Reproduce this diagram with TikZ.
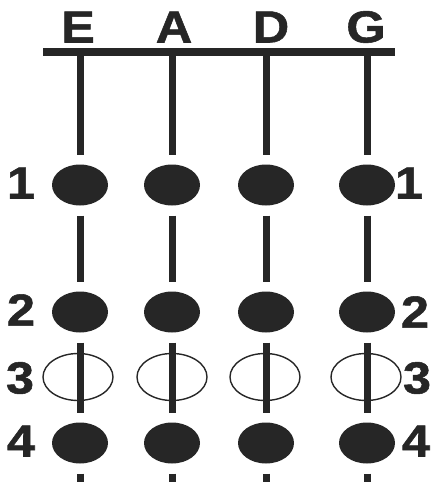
\documentclass[tikz,border=0pt]{standalone}
\usepackage{fontspec}
\newfontfamily\chartfont[FakeStretch=1.12,FakeBold=1.2]{Liberation Sans}
\usetikzlibrary{shapes.geometric}
\tikzset{fretdot/.style={ellipse,fill=black!85,minimum width=56pt,minimum height=41pt,inner sep=0pt,outer sep=10pt}}
\tikzset{openfret/.style={ellipse,draw=black!85,line width=1.4pt,minimum width=70pt,minimum height=47pt,inner sep=0pt}}
\tikzset{stringline/.style={line width=7pt,black!85}}
\tikzset{lbl/.style={font=\chartfont\bfseries\fontsize{45}{45}\selectfont,text=black!85,inner sep=0pt}}

\begin{document}
\begin{tikzpicture}[x=1pt,y=-1pt]
            \useasboundingbox (0,0) rectangle (437,490);

            % nut
            \coordinate (nutL) at (43,52);
            \coordinate (nutR) at (395,52);
            \draw[line width=8pt,black!85] (nutL) -- (nutR);

            % string names
            \node[lbl] (E) at (78,27) {E};
            \node[lbl] (A) at (174,27) {A};
            \node[lbl] (D) at (271,27) {D};
            \node[lbl] (G) at (366,27) {G};

            % E string
            \coordinate (E0) at (80,52);
            \node[fretdot] (E1) at (80,185) {};
            \node[fretdot] (E2) at (80,312) {};
            \node[openfret] (E3) at (78,377) {};
            \node[fretdot] (E4) at (80,443) {};
            \coordinate (E5) at (80,482);

            % A string
            \coordinate (A0) at (172,52);
            \node[fretdot] (A1) at (172,185) {};
            \node[fretdot] (A2) at (172,312) {};
            \node[openfret] (A3) at (172,377) {};
            \node[fretdot] (A4) at (172,443) {};
            \coordinate (A5) at (172,482);

            % D string
            \coordinate (D0) at (266,52);
            \node[fretdot] (D1) at (266,185) {};
            \node[fretdot] (D2) at (266,312) {};
            \node[openfret] (D3) at (265,377) {};
            \node[fretdot] (D4) at (266,443) {};
            \coordinate (D5) at (266,482);

            % G string
            \coordinate (G0) at (367,52);
            \node[fretdot] (G1) at (367,185) {};
            \node[fretdot] (G2) at (367,312) {};
            \node[openfret] (G3) at (366,377) {};
            \node[fretdot] (G4) at (367,443) {};
            \coordinate (G5) at (367,482);

            \draw[stringline] (E0) -- (E1);
            \draw[stringline] (E1) -- (E2);
            \draw[stringline] (E2) -- (E4);
            \draw[stringline] (E4) -- (E5);
            \draw[stringline] (A0) -- (A1);
            \draw[stringline] (A1) -- (A2);
            \draw[stringline] (A2) -- (A4);
            \draw[stringline] (A4) -- (A5);
            \draw[stringline] (D0) -- (D1);
            \draw[stringline] (D1) -- (D2);
            \draw[stringline] (D2) -- (D4);
            \draw[stringline] (D4) -- (D5);
            \draw[stringline] (G0) -- (G1);
            \draw[stringline] (G1) -- (G2);
            \draw[stringline] (G2) -- (G4);
            \draw[stringline] (G4) -- (G5);

            % finger numbers
            \node[lbl] (L1) at (21,183) {1};
            \node[lbl] (L2) at (21,310) {2};
            \node[lbl] (L3) at (20,378) {3};
            \node[lbl] (L4) at (21,441) {4};
            \node[lbl] (R1) at (409,183) {1};
            \node[lbl] (R2) at (415,312) {2};
            \node[lbl] (R3) at (417,378) {3};
            \node[lbl] (R4) at (416,441) {4};
        \end{tikzpicture}
\end{document}
